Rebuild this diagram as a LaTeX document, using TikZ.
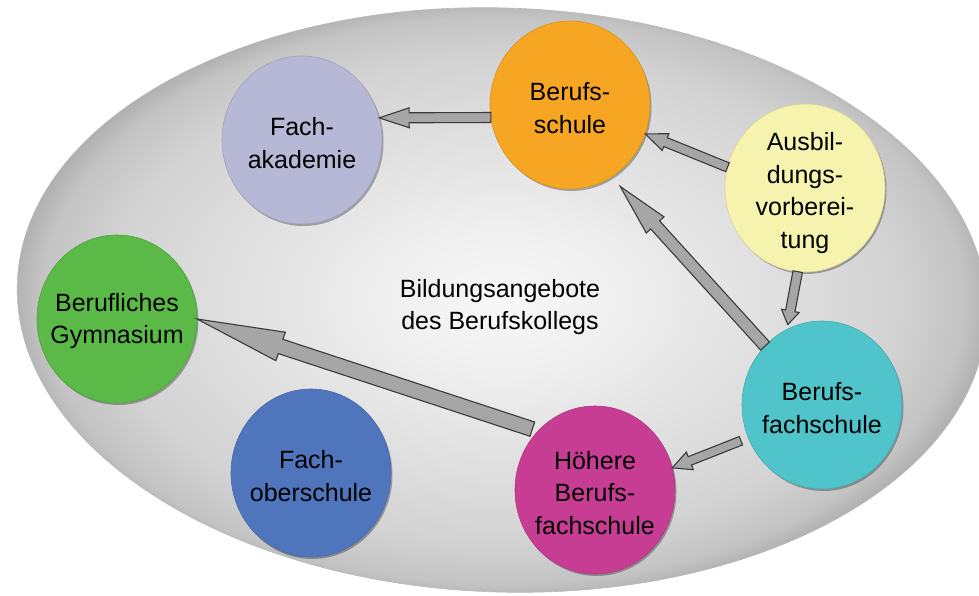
\documentclass[tikz,border=0pt]{standalone}
\usepackage{fontspec}
\setmainfont{Liberation Sans}
\usetikzlibrary{calc,shapes.geometric,shadows}
\definecolor{cFA}{HTML}{B7B8D6}
\definecolor{cBS}{HTML}{F6A623}
\definecolor{cAV}{HTML}{F5F3AE}
\definecolor{cBG}{HTML}{5BB947}
\definecolor{cFO}{HTML}{4F76BD}
\definecolor{cHB}{HTML}{C83D94}
\definecolor{cBF}{HTML}{4FC4CA}
\definecolor{arrowgray}{HTML}{A6A6A6}
\definecolor{arrowline}{HTML}{3A3A3A}
\definecolor{bgA}{HTML}{F8F8F8}
\definecolor{bgB}{HTML}{EFEFEF}
\definecolor{bgC}{HTML}{E1E1E1}
\definecolor{bgD}{HTML}{D3D3D3}
\definecolor{bgE}{HTML}{C4C4C4}
\definecolor{bgF}{HTML}{B0B0B0}
\pgfdeclareradialshading{bgshade}{\pgfpoint{0bp}{0bp}}{color(0bp)=(bgA); color(6bp)=(bgB); color(13bp)=(bgC); color(20bp)=(bgD); color(23.5bp)=(bgE); color(25bp)=(bgF); color(50bp)=(bgF)}
\tikzset{
  school/.style={ellipse, minimum width=160bp, minimum height=168bp, inner sep=0pt, outer sep=0pt,
    fill=#1, draw=#1!88!black, line width=0.6bp,
    drop shadow={shadow xshift=1.5bp, shadow yshift=-2bp, opacity=0.3, fill=black}},
  schooltext/.style={align=center, inner sep=0pt, font=\fontsize{25bp}{32.5bp}\selectfont},
  blockarrow/.style={fill=arrowgray, draw=arrowline, line width=1.1bp, line join=miter},
}
\newcommand\blockarr[5]{%
  \path #1 coordinate (ba-s);
  \path #2 coordinate (ba-e);
  \path ($(ba-e)!#5!(ba-s)$) coordinate (ba-b);
  \draw[blockarrow] ($(ba-s)!#3!90:(ba-e)$) -- ($(ba-b)!#3!90:(ba-e)$) -- ($(ba-b)!#4!90:(ba-e)$)
    -- (ba-e) -- ($(ba-b)!#4!-90:(ba-e)$) -- ($(ba-b)!#3!-90:(ba-e)$) -- ($(ba-s)!#3!-90:(ba-e)$) -- cycle;
}
\begin{document}
\begin{tikzpicture}[x=1bp,y=-1bp]
\useasboundingbox (0,0) rectangle (979,596);
% background ellipse
\shade[shading=bgshade, draw=black!28, line width=0.6bp, rotate around={-2:(502,300)}] (502,300) ellipse [x radius=485, y radius=292];
% schools
\node[school=cFA] (FA) at (302,140) {};
\node[school=cBS] (BS) at (570,105) {};
\node[school=cAV] (AV) at (805,188) {};
\node[school=cBG] (BG) at (117,319) {};
\node[school=cFO] (FO) at (311,473) {};
\node[school=cHB] (HB) at (595,490) {};
\node[school=cBF] (BF) at (822,405) {};
% texts
\node[schooltext] (FAt) at ($(FA)+(0,3)$) {Fach-\\akademie};
\node[schooltext] (BSt) at ($(BS)+(0,3)$) {Berufs-\\schule};
\node[schooltext] (AVt) at ($(AV)+(0,5)$) {Ausbil-\\dungs-\\vorberei-\\tung};
\node[schooltext] (BGt) at ($(BG)+(0,2)$) {Berufliches\\Gymnasium};
\node[schooltext] (FOt) at ($(FO)+(0,3)$) {Fach-\\oberschule};
\node[schooltext] (HBt) at ($(HB)+(0,3)$) {Höhere\\Berufs-\\fachschule};
\node[schooltext] (BFt) at ($(BF)+(0,3)$) {Berufs-\\fachschule};
\node[schooltext] (title) at (500,307) {Bildungsangebote\\des Berufskollegs};
% arrows
\blockarr{(BS.189)}{(FA.16)}{5bp}{10bp}{30bp}
\blockarr{(AV.165)}{(BS.-21)}{4.75bp}{9bp}{22bp}
\blockarr{(BF.134)}{($(BS.-60)!13bp!(BF.134)$)}{6bp}{12bp}{52bp}
\blockarr{(AV.-95)}{($(BF.115)!5bp!(AV.-95)$)}{4.75bp}{9bp}{14bp}
\blockarr{($(BF.204)!8bp!(HB.16)$)}{(HB.16)}{4.5bp}{9.5bp}{19bp}
\blockarr{($(HB.134)!6bp!(BG.0)$)}{(BG.0)}{7.5bp}{15bp}{88bp}
\end{tikzpicture}
\end{document}
